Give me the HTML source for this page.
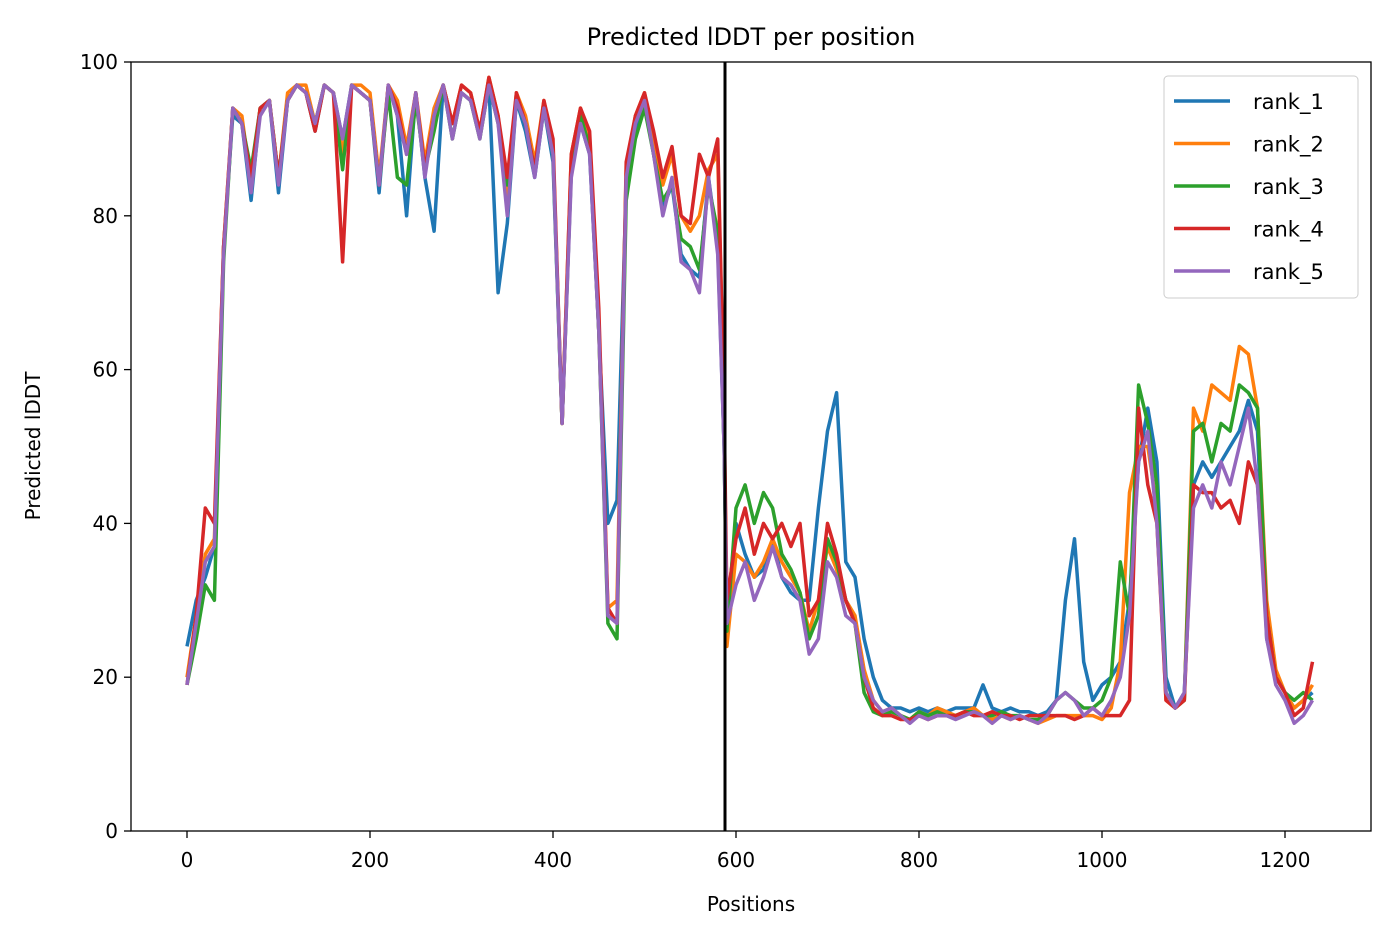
<!DOCTYPE html>
<html><head><meta charset="utf-8"><style>
body{margin:0;background:#fff;}
svg{font-family:"DejaVu Sans","Liberation Sans",sans-serif;}
</style></head><body>
<svg id="chart" width="1391" height="939">
<defs><clipPath id="clip"><rect x="131" y="62" width="1240" height="769"/></clipPath></defs>
<rect x="0" y="0" width="1391" height="939" fill="#fff"/>
<text x="751" y="45" text-anchor="middle" font-size="24">Predicted lDDT per position</text>
<g id="plot" clip-path="url(#clip)"></g>
<line x1="725" y1="62" x2="725" y2="831" stroke="#000" stroke-width="3"/>
<rect x="131" y="62" width="1240" height="769" fill="none" stroke="#000" stroke-width="1.3"/>
<g id="axes"></g>
<text x="751" y="911" text-anchor="middle" font-size="20">Positions</text>
<text transform="translate(40,446) rotate(-90)" text-anchor="middle" font-size="20">Predicted lDDT</text>
<g id="legend">
<rect x="1164" y="76" width="194" height="222" rx="4" fill="#fff" fill-opacity="0.85" stroke="#ccc"/>
</g>
</svg>
<script>
const positions=[0,10,20,30,40,50,60,70,80,90,100,110,120,130,140,150,160,170,180,190,200,210,220,230,240,250,260,270,280,290,300,310,320,330,340,350,360,370,380,390,400,410,420,430,440,450,460,470,480,490,500,510,520,530,540,550,560,570,580,587,590,600,610,620,630,640,650,660,670,680,690,700,710,720,730,740,750,760,770,780,790,800,810,820,830,840,850,860,870,880,890,900,910,920,930,940,950,960,970,980,990,1000,1010,1020,1030,1040,1050,1060,1070,1080,1090,1100,1110,1120,1130,1140,1150,1160,1170,1180,1190,1200,1210,1220,1230];
const seriesNames=["rank_1","rank_2","rank_3","rank_4","rank_5"];
const colors=["#1f77b4","#ff7f0e","#2ca02c","#d62728","#9467bd"];
const rank1=[24,30,33,37,76,93,92,82,94,95,83,95,97,96,91,97,96,90,97,96,95,83,97,93,80,96,85,78,97,92,96,95,91,97,70,79,95,91,85,94,87,53,86,92,88,65,40,43,84,91,95,88,81,84,75,73,72,85,76,50,28,40,36,33,34,38,33,31,30,30,42,52,57,35,33,25,20,17,16,16,15.5,16,15.5,16,15.5,16,16,16,19,16,15.5,16,15.5,15.5,15,15.5,17,30,38,22,17,19,20,22,30,48,55,48,20,16,18,45,48,46,48,50,52,56,52,25,20,18,16,17,18];
const rank2=[20,28,36,38,76,94,93,84,94,95,85,96,97,97,92,97,96,88,97,97,96,85,97,95,89,96,87,94,97,92,97,96,91,98,93,82,96,93,87,95,89,53,88,94,90,65,29,30,86,93,96,90,84,88,80,78,80,86,88,55,24,36,35,33,35,38,35,33,31,26,30,37,34,30,28,21,17,15.5,16,15,14.5,15.5,15,16,15.5,15,15.5,16,15,14.5,15,14.5,15,14.5,14,14.5,15,15,15,15,15,14.5,16,22,44,50,50,42,17,16,17,55,52,58,57,56,63,62,55,30,21,18,16,17,19];
const rank3=[19,25,32,30,74,94,92,86,94,95,85,95,97,96,92,97,96,86,97,96,95,84,96,85,84,95,86,91,97,90,96,95,90,97,92,84,95,92,86,94,88,53,86,93,89,65,27,25,82,90,94,88,82,84,77,76,73,84,78,50,26,42,45,40,44,42,36,34,31,25,28,38,35,30,27,18,15.5,15,15.5,15,14.5,15.5,15,15.5,15,15,15.5,15.5,15,15,15.5,15,15,14.5,14.5,15,17,18,17,16,16,17,20,35,28,58,53,45,18,16,17,52,53,48,53,52,58,57,55,28,20,18,17,18,17];
const rank4=[19,28,42,40,76,94,92,85,94,95,85,95,97,96,91,97,96,74,97,96,95,84,97,94,88,96,86,93,97,92,97,96,91,98,93,85,96,92,86,95,90,53,88,94,91,68,29,27,87,93,96,91,85,89,80,79,88,85,90,55,30,38,42,36,40,38,40,37,40,28,30,40,36,30,27,20,16,15,15,14.5,14.5,15,14.5,15,15,15,15.5,15,15,15.5,15,15,14.5,15,15,15,15,15,14.5,15,16,15,15,15,17,55,45,40,17,16,17,45,44,44,42,43,40,48,45,28,20,18,15,16,22];
const rank5=[19,27,35,37,75,94,92,83,93,95,84,95,97,96,92,97,96,90,97,96,95,84,97,93,88,96,85,93,97,90,96,95,90,97,92,80,95,92,85,94,88,53,85,92,88,65,28,27,85,92,95,88,80,85,74,73,70,85,75,50,27,32,35,30,33,37,33,32,30,23,25,35,33,28,27,20,17,15.5,16,15,14,15,14.5,15,15,14.5,15,15.5,15,14,15,14.5,15,14.5,14,15,17,18,17,15,16,15,17,20,28,48,52,40,18,16,18,42,45,42,48,45,50,55,45,25,19,17,14,15,17];
const allSeries=[rank1,rank2,rank3,rank4,rank5];
const xTicks=[0,200,400,600,800,1000,1200];
const yTicks=[0,20,40,60,80,100];

const NS="http://www.w3.org/2000/svg";
function xs(v){return 187+v*(1285-187)/1200;}
function ys(v){return 831-v*(831-62)/100;}
const plot=document.getElementById('plot');
allSeries.forEach((s,k)=>{
  const p=document.createElementNS(NS,'polyline');
  p.setAttribute('points',s.map((v,i)=>xs(positions[i]).toFixed(1)+','+ys(v).toFixed(1)).join(' '));
  p.setAttribute('fill','none');
  p.setAttribute('stroke',colors[k]);
  p.setAttribute('stroke-width','3.5');
  p.setAttribute('stroke-linejoin','round');
  
  
  plot.appendChild(p);
});
const axes=document.getElementById('axes');
xTicks.forEach(t=>{
  const l=document.createElementNS(NS,'line');
  l.setAttribute('x1',xs(t));l.setAttribute('x2',xs(t));l.setAttribute('y1',831);l.setAttribute('y2',838);
  l.setAttribute('stroke','#000');l.setAttribute('stroke-width','1.3');
  
  
  axes.appendChild(l);
  const tx=document.createElementNS(NS,'text');
  tx.setAttribute('x',xs(t));tx.setAttribute('y',867);tx.setAttribute('text-anchor','middle');tx.setAttribute('font-size','20');
  tx.textContent=t;
  
  
  axes.appendChild(tx);
});
yTicks.forEach(t=>{
  const l=document.createElementNS(NS,'line');
  l.setAttribute('x1',124);l.setAttribute('x2',131);l.setAttribute('y1',ys(t));l.setAttribute('y2',ys(t));
  l.setAttribute('stroke','#000');l.setAttribute('stroke-width','1.3');
  
  
  axes.appendChild(l);
  const tx=document.createElementNS(NS,'text');
  tx.setAttribute('x',118);tx.setAttribute('y',ys(t)+7);tx.setAttribute('text-anchor','end');tx.setAttribute('font-size','20');
  tx.textContent=t;
  
  
  axes.appendChild(tx);
});
const legend=document.getElementById('legend');
seriesNames.forEach((n,k)=>{
  const y=101+k*42.5;
  const l=document.createElementNS(NS,'line');
  l.setAttribute('x1',1174);l.setAttribute('x2',1230);l.setAttribute('y1',y);l.setAttribute('y2',y);
  l.setAttribute('stroke',colors[k]);l.setAttribute('stroke-width','3.5');
  
  
  legend.appendChild(l);
  const tx=document.createElementNS(NS,'text');
  tx.setAttribute('x',1253);tx.setAttribute('y',y+8);tx.setAttribute('font-size','21');
  tx.textContent=n;
  
  
  legend.appendChild(tx);
});
</script>
</body></html>
